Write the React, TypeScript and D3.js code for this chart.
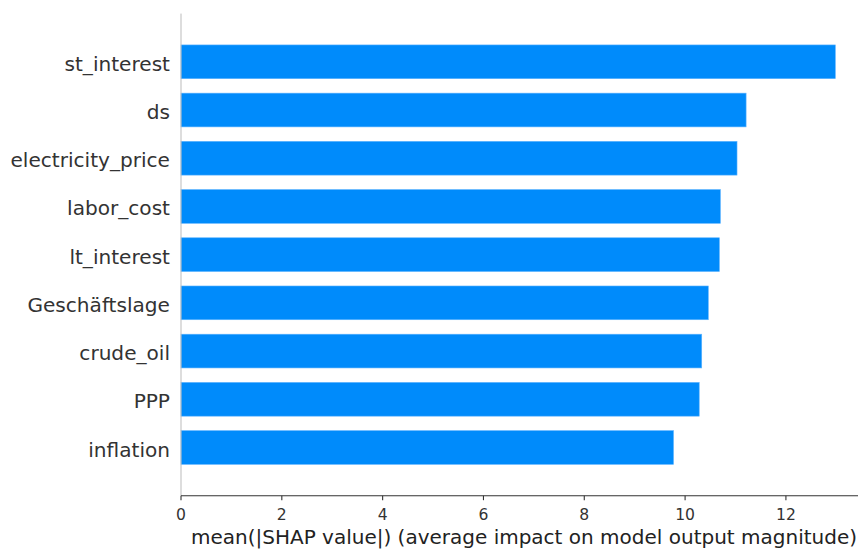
import React from "react";
import * as d3 from "d3";

// Mean absolute SHAP value per feature, listed top to bottom
const features = [
  "st_interest",
  "ds",
  "electricity_price",
  "labor_cost",
  "lt_interest",
  "Geschäftslage",
  "crude_oil",
  "PPP",
  "inflation",
];
const meanAbsShap = [12.98, 11.21, 11.03, 10.7, 10.68, 10.46, 10.33, 10.28, 9.77];
const xTicks = [0, 2, 4, 6, 8, 10, 12];
const xLabel = "mean(|SHAP value|) (average impact on model output magnitude)";

const W = 858;
const H = 550;
const left = 181;
const right = 858;
const top = 13.6;
const bottom = 495.7;
const FONT = "'DejaVu Sans', sans-serif";
const BAR = "#008bfb";
const TEXT = "#333333";

export default function App() {
  const n = features.length;
  const x = d3.scaleLinear().domain([0, 13.43]).range([left, right]);
  // matplotlib-style: feature i sits at y = n-1-i, limits [-1, n]
  const y = d3.scaleLinear().domain([-1, n]).range([bottom, top]);
  const barH = (y(0) - y(1)) * 0.7;

  return (
    <div style={{ position: "fixed", left: 0, top: 0 }}>
      <svg width={W} height={H} style={{ display: "block", background: "#fff" }}>
        {features.map((f, i) => {
          const yc = y(n - 1 - i);
          return (
            <g key={f}>
              <rect
                x={x(0)}
                y={yc - barH / 2}
                width={x(meanAbsShap[i]) - x(0)}
                height={barH}
                fill={BAR}
                stroke="#5cb3ff"
                strokeWidth={0.6}
              />
              <text
                x={left - 11}
                y={yc}
                dy="0.45em"
                textAnchor="end"
                fontFamily={FONT}
                fontSize={20.1}
                fill={TEXT}
              >
                {f}
              </text>
            </g>
          );
        })}
        {/* left spine */}
        <line x1={left} x2={left} y1={top} y2={bottom} stroke="#bbbbbb" strokeWidth={1} />
        {/* bottom axis */}
        <line x1={left} x2={right} y1={bottom} y2={bottom} stroke={TEXT} strokeWidth={1.1} />
        {xTicks.map((t) => (
          <g key={t} transform={`translate(${x(t)},${bottom})`}>
            <line y1={0} y2={4.5} stroke={TEXT} strokeWidth={1.1} />
            <text
              y={24.3}
              textAnchor="middle"
              fontFamily={FONT}
              fontSize={15.6}
              fill={TEXT}
            >
              {t}
            </text>
          </g>
        ))}
        <text
          x={524}
          y={543.5}
          textAnchor="middle"
          fontFamily={FONT}
          fontSize={20}
          fill="#222"
        >
          {xLabel}
        </text>
      </svg>
    </div>
  );
}
